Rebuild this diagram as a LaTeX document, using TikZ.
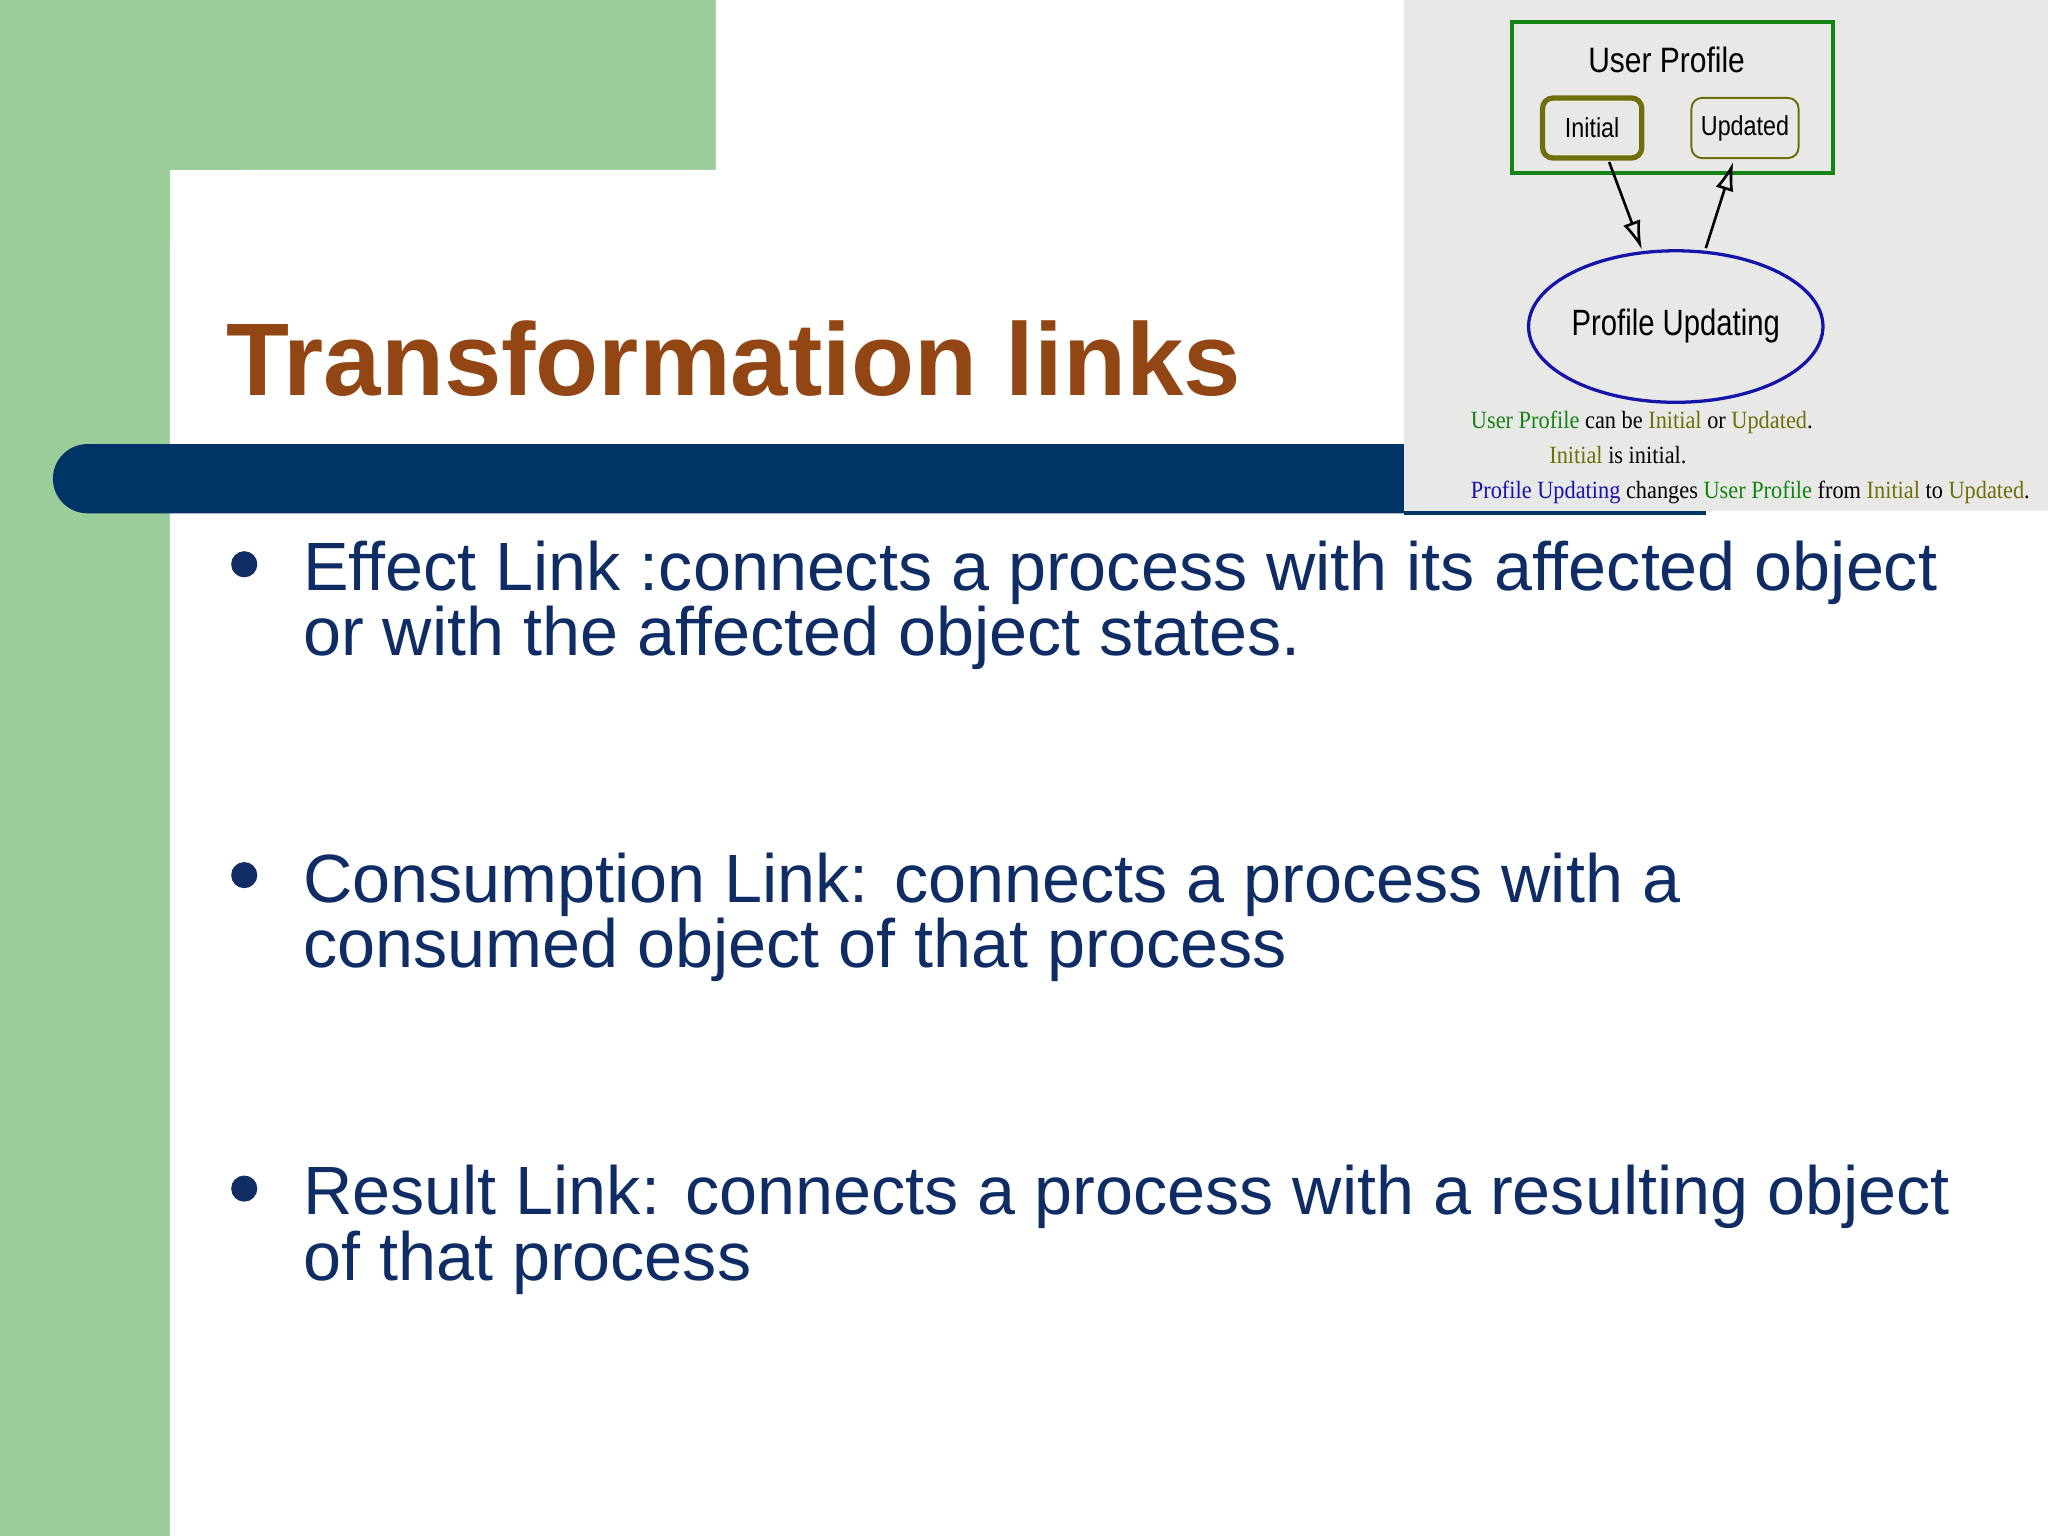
\documentclass[tikz,border=0pt]{standalone}
\usepackage{fontspec}
\setmainfont{Liberation Sans}
\newfontfamily\serifx{Liberation Serif}
\usetikzlibrary{arrows.meta,shapes.geometric}
\definecolor{pgreen}{RGB}{155,205,155}
\definecolor{navy}{RGB}{0,51,102}
\definecolor{txtblue}{RGB}{15,45,100}
\definecolor{brownt}{RGB}{145,70,20}
\definecolor{panel}{RGB}{232,232,230}
\definecolor{dgreen}{RGB}{20,130,20}
\definecolor{olive}{RGB}{110,110,10}
\definecolor{oblue}{RGB}{20,20,170}
\tikzset{
 bul/.style={anchor=base west,text=txtblue,font=\fontsize{52.3}{52.3}\selectfont,inner sep=0},
 dot/.style={circle,fill=txtblue,minimum size=20pt,inner sep=0},
 state/.style={draw=olive,rounded corners=8pt,inner sep=0,font=\fontsize{21}{21}\selectfont,fill=panel},
 openarrow/.style={-{Latex[open,length=22pt,width=14pt]},line width=2pt},
 small/.style={anchor=base west,inner sep=0,font=\serifx\fontsize{19}{19}\selectfont}
}
\begin{document}
\begin{tikzpicture}[x=1pt,y=-1pt]
\useasboundingbox (0,0) rectangle (1568,1176);
\fill[white] (0,0) rectangle (1568,1176);
\fill[pgreen] (0,0) rectangle (548,130);
\fill[pgreen] (0,0) rectangle (130,1176);
\fill[white] (130,1176) -- (130,190) arc[start angle=180,end angle=270,radius=60] -- (548,130) -- (548,0) -- (1568,0) -- (1568,1176) -- cycle;
% title
\node[anchor=base west,inner sep=0,text=brownt,font=\bfseries\fontsize{79}{79}\selectfont] (title) at (173,303) {Transformation links};
% navy bar
\fill[navy] (1075,340) -- (67,340) arc[start angle=270,end angle=90,radius=26.5] -- (1075,393) -- cycle;
\fill[navy] (1075,391) rectangle (1306,394);
% panel
\fill[panel] (1075,0) rectangle (1568,391);
\node[draw=dgreen,line width=3pt,minimum width=246pt,minimum height=116pt,anchor=north west] (up) at (1156,15) {};
\node[font=\fontsize{27}{27}\selectfont] (upl) at (1276,46) {\scalebox{0.85}[1]{User Profile}};
\node[state,line width=4pt,minimum width=76pt,minimum height=46pt] (ini) at (1219,98) {\scalebox{0.85}[1]{Initial}};
\node[state,line width=1.5pt,minimum width=82pt,minimum height=46pt] (upd) at (1336,98) {\scalebox{0.85}[1]{Updated}};
\node[ellipse,draw=oblue,line width=2.5pt,inner sep=0,minimum width=188pt,minimum height=116pt,fill=panel,font=\fontsize{28}{28}\selectfont] (pu) at (1283,250) {\scalebox{0.8}[1]{Profile Updating}};
\draw[openarrow] (1232,124) -- (1257,191);
\draw[openarrow] (1306,190) -- (1327,124);
\node[small] (l1) at (1126,328) {\scalebox{0.9}[1]{\textcolor{dgreen}{User Profile} can be \textcolor{olive}{Initial} or \textcolor{olive}{Updated}.}};
\node[small] (l2) at (1186,355) {\scalebox{0.9}[1]{\textcolor{olive}{Initial} is initial.}};
\node[small] (l3) at (1126,382) {\scalebox{0.9}[1]{\textcolor{oblue}{Profile Updating} changes \textcolor{dgreen}{User Profile} from \textcolor{olive}{Initial} to \textcolor{olive}{Updated}.}};
% bullets
\node[dot] (d1) at (187,432) {};
\node[bul] (b1) at (232,452) {Effect Link :connects a process with its affected object};
\node[bul] (b1b) at (232,502) {or with the affected object states.};
\node[dot] (d2) at (187,670) {};
\node[bul] (b2) at (232,691) {Consumption Link: connects a process with a};
\node[bul] (b2b) at (232,741) {consumed object of that process};
\node[dot] (d3) at (187,910) {};
\node[bul] (b3) at (232,930) {Result Link: connects a process with a resulting object};
\node[bul] (b3b) at (232,980) {of that process};
\end{tikzpicture}
\end{document}
